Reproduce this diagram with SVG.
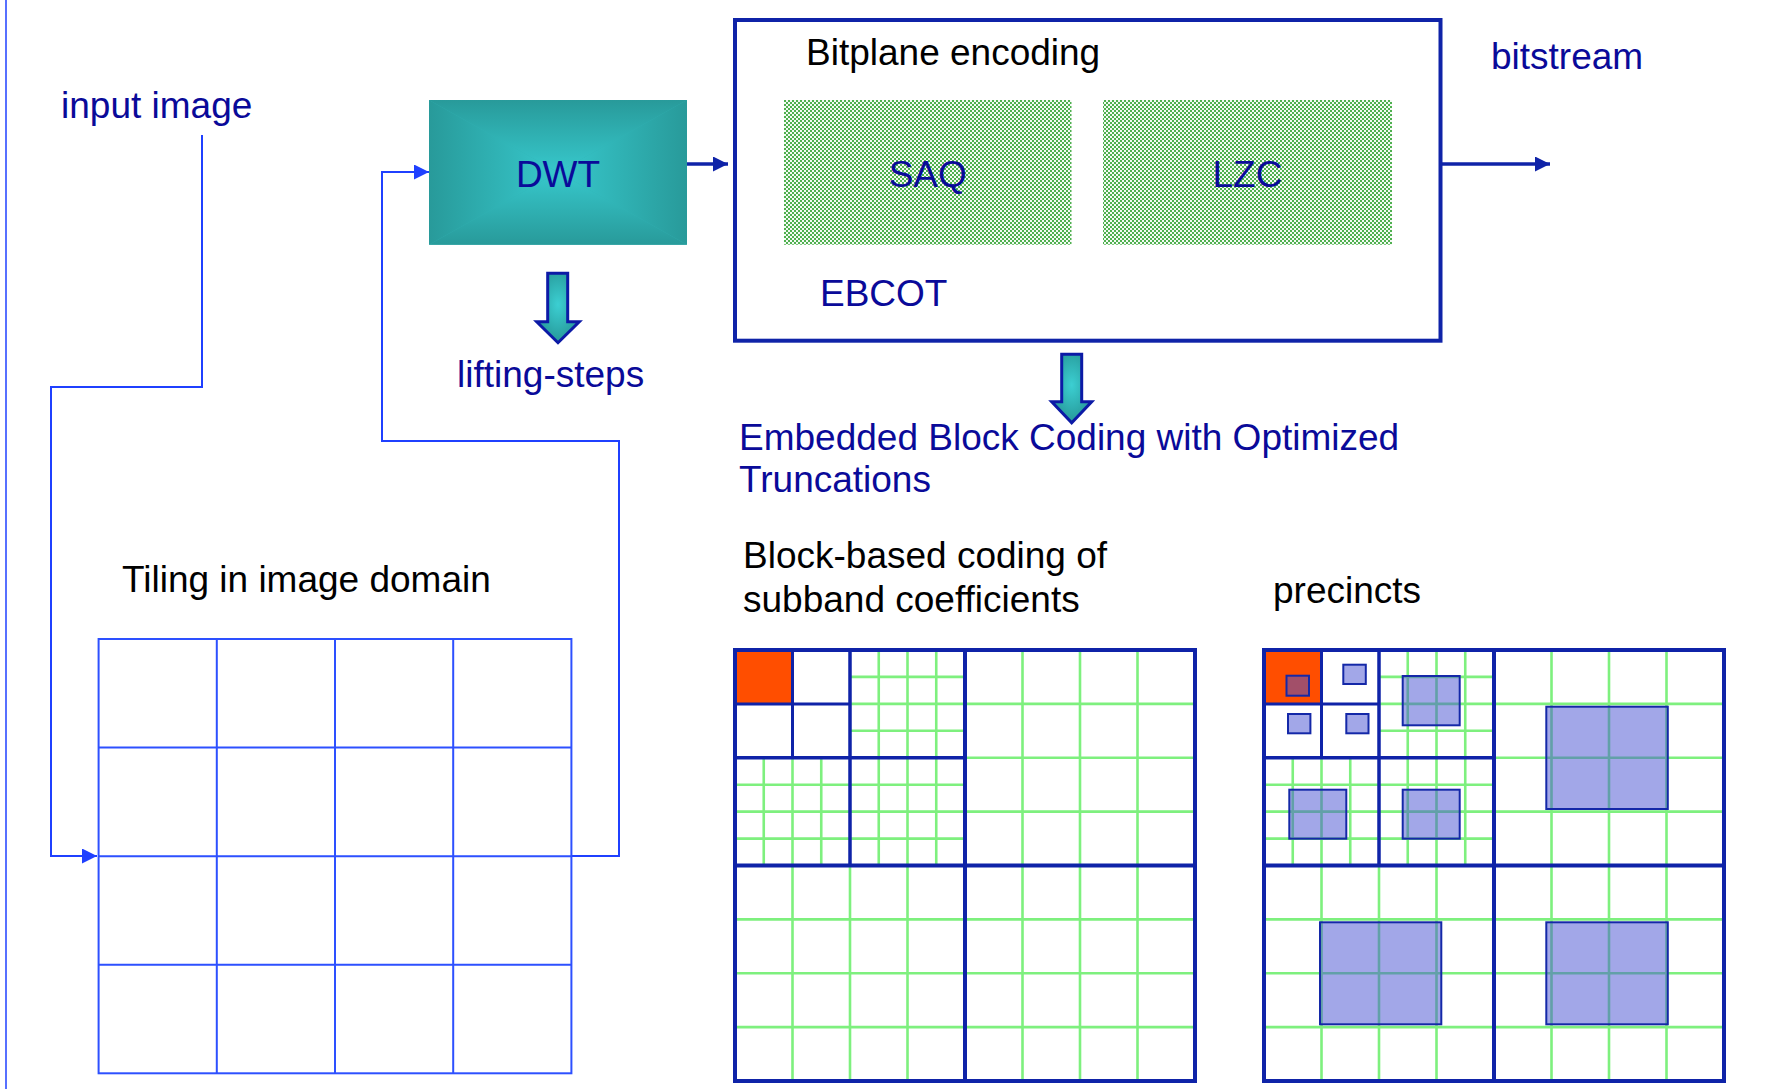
<svg xmlns="http://www.w3.org/2000/svg" xmlns:xlink="http://www.w3.org/1999/xlink" width="1776" height="1089" viewBox="0 0 1776 1089">
<style>
  text { font-family: "Liberation Sans", Arial, sans-serif; font-size: 37px; }
  .navy { fill: #0a0a99; }
  .black { fill: #000000; }
  .conn { fill: none; stroke: #1f40ff; stroke-width: 2; }
  .thick { fill: none; stroke: #0f23a8; stroke-width: 3.5; }
  .tile { fill: none; stroke: #2d50ff; stroke-width: 2; }
  .grn { fill: none; stroke: #7ef07e; stroke-width: 2.6; }
  .b1 { fill: none; stroke: #0f23a8; stroke-width: 4; }
  .b2 { fill: none; stroke: #0f23a8; stroke-width: 3.5; }
  .b3 { fill: none; stroke: #0f23a8; stroke-width: 3; }
  .prec { fill: rgb(70,80,210); fill-opacity: 0.5; stroke: #1428a8; stroke-width: 2; }
  .barrow { fill: url(#arrowFill); stroke: #0c1aa6; stroke-width: 3; stroke-linejoin: miter; }
</style>
<defs>
  <marker id="arrBlue" viewBox="0 0 15 15" markerWidth="15" markerHeight="15" refX="15" refY="7.5" markerUnits="userSpaceOnUse" orient="auto">
    <path d="M0,0 L15,7.5 L0,15 Z" fill="#1f40ff"/>
  </marker>
  <marker id="arrNavy" viewBox="0 0 15 15" markerWidth="15" markerHeight="15" refX="15" refY="7.5" markerUnits="userSpaceOnUse" orient="auto">
    <path d="M0,0 L15,7.5 L0,15 Z" fill="#0f23a8"/>
  </marker>
  <pattern id="checker" width="4" height="4" patternUnits="userSpaceOnUse">
    <rect width="4" height="4" fill="#f4fbf4"/>
    <rect width="2" height="2" fill="#4fb04f"/>
    <rect x="2" y="2" width="2" height="2" fill="#4fb04f"/>
  </pattern>
  <linearGradient id="gTop" gradientUnits="userSpaceOnUse" x1="558" y1="100" x2="558" y2="172.35">
    <stop offset="0" stop-color="#289a9a"/><stop offset="1" stop-color="#37c8cc"/>
  </linearGradient>
  <linearGradient id="gBot" gradientUnits="userSpaceOnUse" x1="558" y1="244.7" x2="558" y2="172.35">
    <stop offset="0" stop-color="#289a9a"/><stop offset="1" stop-color="#37c8cc"/>
  </linearGradient>
  <linearGradient id="gLeft" gradientUnits="userSpaceOnUse" x1="429" y1="172" x2="558" y2="172">
    <stop offset="0" stop-color="#289a9a"/><stop offset="1" stop-color="#37c8cc"/>
  </linearGradient>
  <linearGradient id="gRight" gradientUnits="userSpaceOnUse" x1="687" y1="172" x2="558" y2="172">
    <stop offset="0" stop-color="#289a9a"/><stop offset="1" stop-color="#37c8cc"/>
  </linearGradient>
  <radialGradient id="arrowFill" cx="0.5" cy="0.45" r="0.6">
    <stop offset="0" stop-color="#3ccfd2"/><stop offset="1" stop-color="#249494"/>
  </radialGradient>

  <g id="subbandGrid">
    <rect x="735" y="650" width="57.5" height="53.9" fill="#ff4e00"/>
    <!-- green code-block lines: level 1 -->
    <path class="grn" d="M1022.5,650V1081 M1080,650V1081 M1137.5,650V1081
                         M735,919.4H1195 M735,973.25H1195 M735,1027.1H1195
                         M792.5,865.5V1081 M850,865.5V1081 M907.5,865.5V1081
                         M965,703.9H1195 M965,757.75H1195 M965,811.6H1195"/>
    <!-- level 2 -->
    <path class="grn" d="M878.75,650V865.5 M907.5,650V865.5 M936.25,650V865.5
                         M763.75,757.75V865.5 M792.5,757.75V865.5 M821.25,757.75V865.5
                         M850,676.9H965 M850,703.9H965 M850,730.8H965
                         M735,784.7H965 M735,811.6H965 M735,838.6H965"/>
    <!-- subband boundaries -->
    <path class="b3" d="M792.5,650V757.75 M735,703.9H850"/>
    <path class="b2" d="M850,650V865.5 M735,757.75H965"/>
    <path class="b1" d="M965,650V1081 M735,865.5H1195"/>
    <rect class="b1" x="735" y="650" width="460" height="431"/>
  </g>
</defs>

<rect width="1776" height="1089" fill="#ffffff"/>
<line x1="6" y1="0" x2="6" y2="1089" stroke="#1f40ff" stroke-width="1.5"/>

<g id="connectors">
  <path class="conn" d="M202,135 V387 H51 V856 H97" marker-end="url(#arrBlue)"/>
  <path class="conn" d="M571,856 H619 V441 H382 V172 H429" marker-end="url(#arrBlue)"/>
  <path class="thick" d="M687,164 H728" marker-end="url(#arrNavy)"/>
  <path class="thick" d="M1441,164 H1550" marker-end="url(#arrNavy)"/>
  <path class="barrow" d="M547.7,273.3 H567.7 V321.7 H579.3 L558,342.7 L536.7,321.7 H547.7 Z"/>
  <path class="barrow" d="M1061.7,354.3 H1081.7 V401.7 H1091.7 L1071.7,422.7 L1051.7,401.7 H1061.7 Z"/>
</g>

<g id="input-image">
  <text class="navy" x="61" y="118">input image</text>
</g>

<g id="dwt">
  <rect x="429" y="100" width="258" height="144.7" fill="#30b2b4"/>
  <polygon points="429,100 687,100 558,172.35" fill="url(#gTop)"/>
  <polygon points="429,244.7 687,244.7 558,172.35" fill="url(#gBot)"/>
  <polygon points="429,100 429,244.7 558,172.35" fill="url(#gLeft)"/>
  <polygon points="687,100 687,244.7 558,172.35" fill="url(#gRight)"/>
  <text class="navy" x="558" y="187" text-anchor="middle">DWT</text>
</g>

<g id="lifting-steps">
  <text class="navy" x="457" y="387">lifting-steps</text>
</g>

<g id="ebcot">
  <rect x="735" y="20" width="705.5" height="320.7" fill="none" stroke="#0f23a8" stroke-width="4"/>
  <text class="black" x="806" y="65">Bitplane encoding</text>
  <text class="navy" x="820" y="306">EBCOT</text>
</g>

<g id="saq">
  <rect x="784" y="100" width="287.5" height="144.7" fill="url(#checker)"/>
  <text class="navy" x="927.7" y="187" text-anchor="middle">SAQ</text>
</g>

<g id="lzc">
  <rect x="1103" y="100" width="289" height="144.7" fill="url(#checker)"/>
  <text class="navy" x="1247.5" y="187" text-anchor="middle">LZC</text>
</g>

<g id="bitstream">
  <text class="navy" x="1491" y="69">bitstream</text>
</g>

<g id="ebcot-label">
  <text class="navy" x="739" y="450">Embedded Block Coding with Optimized</text>
  <text class="navy" x="739" y="492">Truncations</text>
</g>

<g id="tiling">
  <text class="black" x="122" y="592">Tiling in image domain</text>
  <rect class="tile" x="98.6" y="639" width="472.8" height="434.3"/>
  <path class="tile" d="M216.8,639V1073.3 M335,639V1073.3 M453.2,639V1073.3
                        M98.6,747.6H571.4 M98.6,856.2H571.4 M98.6,964.7H571.4"/>
</g>

<g id="subbands">
  <text class="black" x="743" y="568">Block-based coding of</text>
  <text class="black" x="743" y="612">subband coefficients</text>
  <use xlink:href="#subbandGrid" href="#subbandGrid"/>
</g>

<g id="precincts">
  <text class="black" x="1273" y="603">precincts</text>
  <use xlink:href="#subbandGrid" href="#subbandGrid" x="529"/>
  <rect class="prec" x="1286.5" y="675.7" width="22.5" height="20"/>
  <rect class="prec" x="1343.3" y="664.7" width="22.5" height="19.3"/>
  <rect class="prec" x="1288" y="714" width="22.4" height="19.3"/>
  <rect class="prec" x="1346.3" y="714" width="22.2" height="19.3"/>
  <rect class="prec" x="1402.7" y="676" width="57" height="49.3"/>
  <rect class="prec" x="1289.3" y="789.7" width="57" height="49"/>
  <rect class="prec" x="1402.7" y="789.7" width="57" height="49"/>
  <rect class="prec" x="1546.3" y="706.7" width="121.5" height="102.3"/>
  <rect class="prec" x="1320" y="922.3" width="121.3" height="102"/>
  <rect class="prec" x="1546.3" y="922.3" width="121.5" height="102"/>
</g>
</svg>
